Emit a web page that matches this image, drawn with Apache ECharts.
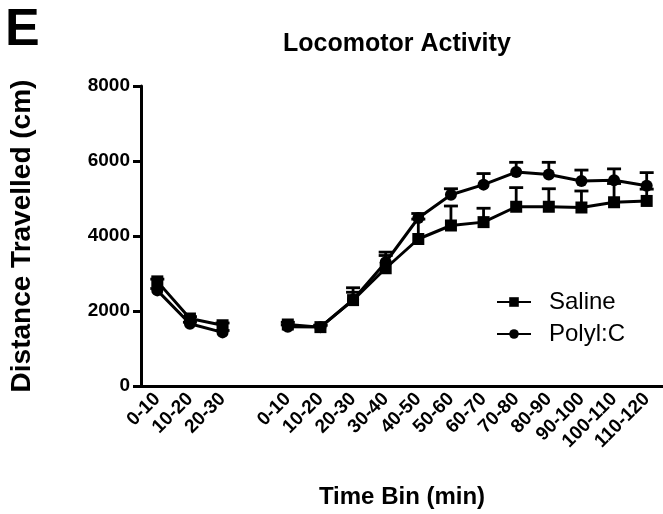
<!DOCTYPE html>
<html lang="en">
<head>
    <meta charset="UTF-8">
    <title>Locomotor Activity</title>
    <script src="https://cdn.jsdelivr.net/npm/echarts@6/dist/echarts.min.js"></script>
    <style>
        html, body { margin: 0; padding: 0; background: #fff; }
        #main { width: 663px; height: 514px; }
    </style>
</head>
<body>
<div id="main"></div>
<script>
    // time bins; the empty entry is the gap between the two sessions
    var categories = ['0-10', '10-20', '20-30', '', '0-10', '10-20', '20-30', '30-40', '40-50',
        '50-60', '60-70', '70-80', '80-90', '90-100', '100-110', '110-120'];
    var yTicks = [0, 2000, 4000, 6000, 8000];

    // mean distance (cm)
    var saline = [2790, 1800, 1620, null, 1640, 1570, 2290, 3140, 3920, 4280, 4370, 4780, 4780, 4760, 4900, 4935];
    var polyIC = [2550, 1660, 1430, null, 1580, 1570, 2300, 3300, 4480, 5100, 5370, 5705, 5640, 5466, 5484, 5340];
    // top of the error bar (mean + SEM)
    var salineTop = [2850, 1850, 1680, null, 1700, 1620, 2620, 3480, 4450, 4800, 4740, 5290, 5260, 5200, 5400, 5250];
    var polyICTop = [2600, 1700, 1480, null, 1630, 1620, 2500, 3570, 4600, 5260, 5665, 5965, 5965, 5758, 5790, 5690];

    var font = 'Liberation Sans, Arial, sans-serif';

    function errData(mean, top) {
        var out = [];
        for (var i = 0; i < mean.length; i++) {
            if (mean[i] != null) out.push([i, mean[i], top[i]]);
        }
        return out;
    }

    function errorBar(params, api) {
        var p0 = api.coord([api.value(0), api.value(1)]);
        var p1 = api.coord([api.value(0), api.value(2)]);
        var cap = 7;
        var st = {stroke: '#000', lineWidth: 2.8};
        return {
            type: 'group',
            children: [
                {type: 'line', shape: {x1: p0[0], y1: p0[1], x2: p1[0], y2: p1[1]}, style: st},
                {type: 'line', shape: {x1: p1[0] - cap, y1: p1[1], x2: p1[0] + cap, y2: p1[1]}, style: st}
            ]
        };
    }

    var myChart = echarts.init(document.getElementById('main'));

    var option = {
        animation: false,
        title: [
            {text: 'E', left: 0, top: 0, textStyle: {fontFamily: font, fontSize: 52, fontWeight: 'bold', color: '#000'}},
            {text: 'Locomotor Activity', left: 278, top: 27, textStyle: {fontFamily: font, fontSize: 25, fontWeight: 'bold', color: '#000'}}
        ],
        legend: {
            orient: 'vertical',
            left: 491,
            top: 285,
            itemWidth: 34,
            itemHeight: 12,
            itemGap: 8,
            textStyle: {fontFamily: font, fontSize: 24, color: '#000', padding: [0, 0, 0, 13]},
            data: ['Saline', 'Polyl:C']
        },
        grid: {left: 141, top: 86, width: 528, bottom: 126},
        xAxis: {
            type: 'category',
            data: categories,
            boundaryGap: true,
            name: 'Time Bin (min)',
            nameLocation: 'middle',
            nameGap: 99,
            nameTextStyle: {fontFamily: font, fontSize: 24, fontWeight: 'bold', color: '#000'},
            axisLine: {lineStyle: {color: '#000', width: 3}},
            axisTick: {
                alignWithLabel: true,
                length: 8,
                lineStyle: {color: '#000', width: 3},
                interval: function (index, value) { return value !== ''; }
            },
            axisLabel: {
                interval: 0,
                rotate: 45,
                margin: 10,
                fontFamily: font,
                fontSize: 19,
                fontWeight: 'bold',
                color: '#000'
            },
            splitLine: {show: false}
        },
        yAxis: {
            type: 'value',
            min: yTicks[0],
            max: yTicks[yTicks.length - 1],
            interval: 2000,
            name: 'Distance Travelled (cm)',
            nameLocation: 'middle',
            nameRotate: 90,
            nameGap: 105,
            nameTextStyle: {fontFamily: font, fontSize: 28, fontWeight: 'bold', color: '#000'},
            axisLine: {show: true, lineStyle: {color: '#000', width: 3}},
            axisTick: {show: true, length: 8, lineStyle: {color: '#000', width: 3}},
            axisLabel: {
                margin: 11,
                fontFamily: font,
                fontSize: 19,
                fontWeight: 'bold',
                color: '#000',
                formatter: function (v) { return String(v); }
            },
            splitLine: {show: false}
        },
        series: [
            {
                name: 'Saline err',
                type: 'custom',
                renderItem: errorBar,
                data: errData(saline, salineTop),
                encode: {x: 0, y: [1, 2]},
                z: 1,
                silent: true
            },
            {
                name: 'Polyl:C err',
                type: 'custom',
                renderItem: errorBar,
                data: errData(polyIC, polyICTop),
                encode: {x: 0, y: [1, 2]},
                z: 1,
                silent: true
            },
            {
                name: 'Saline',
                type: 'line',
                data: saline,
                symbol: 'rect',
                symbolSize: 12,
                connectNulls: false,
                z: 3,
                lineStyle: {color: '#000', width: 3},
                itemStyle: {color: '#000'}
            },
            {
                name: 'Polyl:C',
                type: 'line',
                data: polyIC,
                symbol: 'circle',
                symbolSize: 12,
                connectNulls: false,
                z: 3,
                lineStyle: {color: '#000', width: 3},
                itemStyle: {color: '#000'}
            }
        ]
    };

    myChart.setOption(option);
</script>
</body>
</html>
